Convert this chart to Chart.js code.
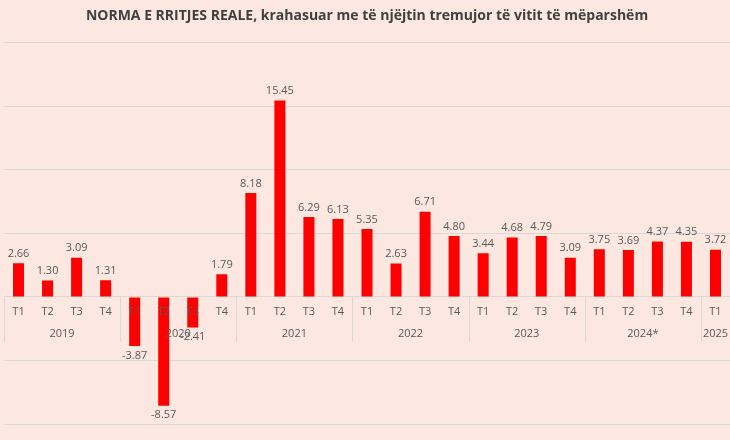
<!DOCTYPE html>
<html><head><meta charset="utf-8">
<script src="https://cdn.jsdelivr.net/npm/chart.js@4"></script>
<style>html,body{margin:0;padding:0;background:#fce8e0;overflow:hidden}#w{width:730px;height:440px}</style>
</head><body><div id="w"><canvas id="c"></canvas></div>
<script>
const quarters = ["T1","T2","T3","T4","T1","T2","T3","T4","T1","T2","T3","T4","T1","T2","T3","T4","T1","T2","T3","T4","T1","T2","T3","T4","T1"];
const years = ["2019","2020","2021","2022","2023","2024*","2025"];
const yearSizes = [4,4,4,4,4,4,1];
const values = [2.66,1.30,3.09,1.31,-3.87,-8.57,-2.41,1.79,8.18,15.45,6.29,6.13,5.35,2.63,6.71,4.80,3.44,4.68,4.79,3.09,3.75,3.69,4.37,4.35,3.72];

const labelsPlugin = {
  id:'lbl',
  afterDatasetsDraw(chart){
    const ctx=chart.ctx, x=chart.scales.x, y=chart.scales.y;
    const y0=y.getPixelForValue(0);
    ctx.save();
    ctx.textAlign='center';
    ctx.fillStyle='#595959';
    ctx.font='11px "Open Sans", sans-serif';
    const meta=chart.getDatasetMeta(0);
    values.forEach((v,i)=>{
      const b=meta.data[i];
      const t=v.toFixed(2);
      if(v>=0){ctx.textBaseline='bottom';ctx.fillText(t,b.x,b.y-4);}
      else{ctx.textBaseline='top';ctx.fillText(t,b.x,b.y+4);}
    });
    // quarter labels
    ctx.textBaseline='middle';
    quarters.forEach((q,i)=>ctx.fillText(q,x.getPixelForValue(i),y0+15));
    // years + separators
    let idx=0;
    ctx.strokeStyle='#d9d9d9';ctx.lineWidth=1;
    const half=(x.getPixelForValue(1)-x.getPixelForValue(0))/2;
    years.forEach((yr,k)=>{
      const s=idx, e=idx+yearSizes[k]-1;
      const xs=x.getPixelForValue(s)-half;
      ctx.beginPath();ctx.moveTo(Math.round(xs)+0.5,y0);ctx.lineTo(Math.round(xs)+0.5,y0+45);ctx.stroke();
      ctx.fillText(yr,(x.getPixelForValue(s)+x.getPixelForValue(e))/2,y0+37);
      idx+=yearSizes[k];
    });
    ctx.restore();
  }
};

new Chart(document.getElementById('c'),{
  type:'bar',
  data:{labels:quarters,datasets:[{data:values,backgroundColor:'#ff0000',barPercentage:0.38,categoryPercentage:1}]},
  options:{
    responsive:true,maintainAspectRatio:false,animation:false,
    layout:{padding:{left:4,right:0,bottom:16,top:0}},
    plugins:{legend:{display:false},tooltip:{enabled:false},
      title:{display:true,text:'NORMA E RRITJES REALE, krahasuar me të njëjtin tremujor të vitit të mëparshëm',
        color:'#404040',font:{family:'"Open Sans", sans-serif',size:14,weight:'bold'},padding:{top:8,bottom:18}}},
    scales:{
      x:{display:false},
      y:{min:-10,max:20,ticks:{display:false,stepSize:5},border:{display:false},grid:{color:'#d9d9d9',drawTicks:false}}
    }
  },
  plugins:[labelsPlugin]
});
</script></body></html>
